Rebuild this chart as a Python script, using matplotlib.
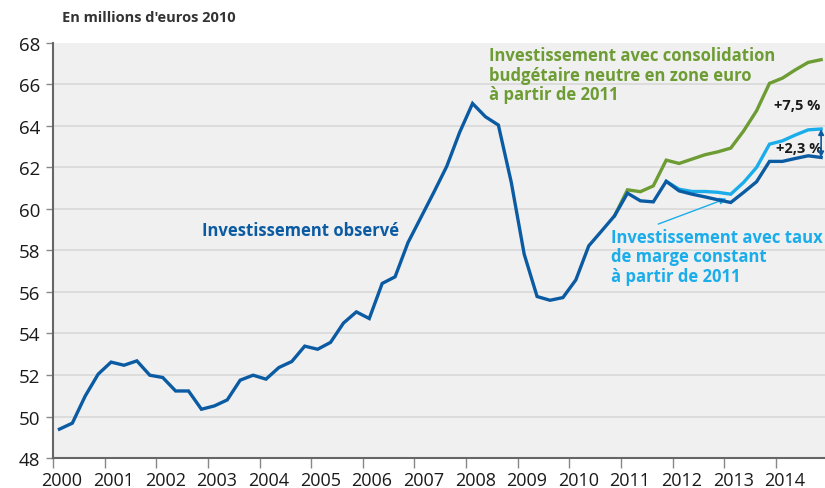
import numpy as np
import matplotlib as mpl
mpl.use('Agg')
import matplotlib.pyplot as plt
from matplotlib.transforms import ScaledTranslation

# quarterly points, plotted at mid-quarter
quarters = np.arange(2000.125, 2015, 0.25)

observe = [49.39, 49.68, 50.99, 52.04, 52.62, 52.47, 52.68, 51.99,
           51.88, 51.23, 51.23, 50.35, 50.51, 50.80, 51.75, 51.99,
           51.80, 52.36, 52.65, 53.39, 53.24, 53.57, 54.50, 55.04,
           54.72, 56.41, 56.73, 58.38, 59.59, 60.80, 62.05, 63.69,
           65.08, 64.44, 64.04, 61.28, 57.82, 55.78, 55.60, 55.73,
           56.58, 58.22, 58.94, 59.67, 60.76, 60.39, 60.34, 61.33,
           60.87, 60.71, 60.58, 60.44, 60.31, 60.80, 61.31, 62.29,
           62.29, 62.43, 62.56, 62.48]

# scenario "consolidation budgetaire neutre" starts from 2010T4
conso_start = 43
conso = [59.67, 60.92, 60.83, 61.11, 62.35, 62.19, 62.40, 62.61,
         62.75, 62.93, 63.76, 64.73, 66.05, 66.30, 66.70, 67.06, 67.19]

# scenario "taux de marge constant" starts from 2011T4
marge_start = 47
marge = [61.33, 60.95, 60.84, 60.84, 60.80, 60.71, 61.28, 62.00,
         63.12, 63.28, 63.56, 63.81, 63.85]

years = list(range(2000, 2015))
yticks = list(range(48, 70, 2))

c_obs = '#0b5ba3'
c_conso = '#6e9c34'
c_marge = '#1badea'

plt.rcParams['font.family'] = ['Open Sans', 'DejaVu Sans']

fig = plt.figure(figsize=(8.25, 4.89), dpi=100)
ax = fig.add_axes([0.0642, 0.0613, 0.9358, 0.849])
ax.set_facecolor('#f0f0f0')

for y in yticks[1:-1]:
    ax.axhline(y, color='#d8d8d8', lw=1.2, zorder=0)

ax.plot(quarters[conso_start:], conso, color=c_conso, lw=2.4, zorder=2,
        solid_joinstyle='miter')
ax.plot(quarters[marge_start:], marge, color=c_marge, lw=2.4, zorder=3,
        solid_joinstyle='miter')
ax.plot(quarters, observe, color=c_obs, lw=2.4, zorder=4,
        solid_joinstyle='miter')

ax.set_xlim(2000, 2014.95)
ax.set_ylim(48, 68)
ax.set_yticks(yticks)
ax.set_xticks(years)
ax.set_xticklabels([str(y) for y in years])

for s in ['top', 'right']:
    ax.spines[s].set_visible(False)
for s in ['left', 'bottom']:
    ax.spines[s].set_color('#666666')
    ax.spines[s].set_linewidth(1.5)
ax.tick_params(axis='y', length=5, width=1, color='#888888', labelsize=13.5,
               pad=4, labelcolor='#1a1a1a')
ax.tick_params(axis='x', length=7, width=1, color='#888888', labelsize=13,
               pad=2.5, labelcolor='#1a1a1a')
for lab in ax.get_xticklabels():
    lab.set_transform(lab.get_transform() + ScaledTranslation(0.09, 0, fig.dpi_scale_trans))

fig.text(0.075, 0.963, "En millions d'euros 2010", fontsize=10.5,
         fontweight='bold', color='#333333', va='center', ha='left')

ax.text(2002.88, 58.98, 'Investissement observé', color=c_obs, fontsize=12,
        fontweight='bold', va='center', ha='left')
ax.text(2008.45, 67.85, 'Investissement avec consolidation\nbudgétaire neutre en zone euro\nà partir de 2011',
        color=c_conso, fontsize=12, fontweight='bold', va='top', ha='left',
        linespacing=1.12)
ax.text(2010.8, 59.1, 'Investissement avec taux\nde marge constant\nà partir de 2011',
        color=c_marge, fontsize=12, fontweight='bold', va='top', ha='left',
        linespacing=1.12)

ax.annotate('', xy=(2013.04, 60.5), xytext=(2011.72, 59.27),
            arrowprops=dict(arrowstyle='-|>', color=c_marge, lw=1,
                            mutation_scale=10, shrinkA=0, shrinkB=0))

ax.text(2014.42, 65.0, '+7,5 %', fontsize=10.5, fontweight='bold',
        color='#1a1a1a', ha='center', va='center')
ax.text(2014.45, 62.95, '+2,3 %', fontsize=10.5, fontweight='bold',
        color='#1a1a1a', ha='center', va='center')
ax.annotate('', xy=(quarters[-1], marge[-1]), xytext=(quarters[-1], observe[-1]),
            arrowprops=dict(arrowstyle='<|-|>', color=c_obs, lw=1.2,
                            mutation_scale=8, shrinkA=0, shrinkB=0))

fig.savefig('out.png', dpi=100)
